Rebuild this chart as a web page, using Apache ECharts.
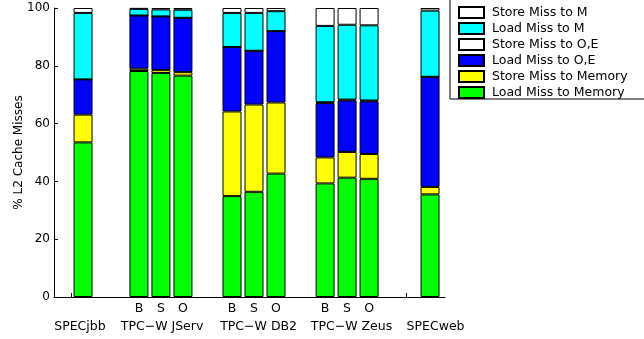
<!DOCTYPE html>
<html>
<head>
<meta charset="utf-8">
<script src="https://cdn.jsdelivr.net/npm/echarts@6/dist/echarts.min.js"></script>
<style>html,body{margin:0;padding:0;background:#fff}#c{width:644px;height:339px}</style>
</head>
<body>
<div id="c"></div>
<script>
// bar positions on the x value axis (one unit = spacing between neighbouring bars)
const barPos = [1.32, 3.86, 4.86, 5.86, 8.09, 9.09, 10.09, 12.32, 13.32, 14.32, 17.09];
const barSubLabels = ['', 'B', 'S', 'O', 'B', 'S', 'O', 'B', 'S', 'O', ''];
const groupPos = [1.18, 4.91, 9.30, 13.52, 17.34];
const groupLabels = ['SPECjbb', 'TPC\u2212W JServ', 'TPC\u2212W DB2', 'TPC\u2212W Zeus', 'SPECweb'];
const minorTickPos = [0.77, 16.0];
const yTicks = [0, 20, 40, 60, 80, 100];

// segment values (% of L2 cache misses), stacked bottom to top
const loadMissMemory  = [53.5, 78.2, 77.5, 76.6, 34.9, 36.4, 42.7, 39.3, 41.3, 40.9, 35.5];
const storeMissMemory = [ 9.6,  0.8,  1.0,  1.2, 29.3, 30.2, 24.6,  9.0,  8.9,  8.6,  2.6];
const loadMissOE      = [12.2, 18.4, 18.6, 18.8, 22.3, 18.6, 24.7, 18.8, 17.8, 18.2, 38.1];
const storeMissOE     = [ 0.0,  0.0,  0.0,  0.0,  0.0,  0.0,  0.0,  0.3,  0.3,  0.3,  0.0];
const loadMissM       = [23.0,  2.3,  2.4,  2.8, 11.8, 13.1,  6.9, 26.4, 25.9, 26.0, 22.9];
const storeMissM      = [ 1.7,  0.3,  0.5,  0.6,  1.7,  1.7,  1.1,  6.2,  5.8,  6.0,  0.9];

const seriesDefs = [
  ['Load Miss to Memory', loadMissMemory, '#00ff00'],
  ['Store Miss to Memory', storeMissMemory, '#ffff00'],
  ['Load Miss to O,E', loadMissOE, '#0000ff'],
  ['Store Miss to O,E', storeMissOE, '#ffffff'],
  ['Load Miss to M', loadMissM, '#00ffff'],
  ['Store Miss to M', storeMissM, '#ffffff']
];

const FONT = 'DejaVu Sans';
const xMin = 0, xMax = 17.77;

function idxOf(arr, v) {
  for (let i = 0; i < arr.length; i++) if (Math.abs(arr[i] - v) < 1e-6) return i;
  return -1;
}

const chart = echarts.init(document.getElementById('c'), null, {renderer: 'canvas'});
chart.setOption({
  animation: false,
  backgroundColor: '#ffffff',
  textStyle: {fontFamily: FONT, color: '#000'},
  grid: {left: 54, right: 199, top: 8, bottom: 42, containLabel: false, outerBoundsMode: 'none'},
  legend: {
    data: seriesDefs.map(d => d[0]).slice().reverse(),
    orient: 'vertical',
    left: 450,
    top: -3,
    padding: [9, 30, 0, 8],
    itemGap: 3,
    itemWidth: 25,
    itemHeight: 11,
    icon: 'rect',
    backgroundColor: '#fff',
    borderColor: '#000',
    borderWidth: 1,
    selectedMode: false,
    textStyle: {fontFamily: FONT, fontSize: 12.5, color: '#000', padding: [0, 0, 0, 3]}
  },
  xAxis: [
    {
      type: 'value', min: xMin, max: xMax,
      axisLine: {show: true, onZero: false, lineStyle: {color: '#000', width: 1}},
      axisTick: {show: true, inside: true, length: 4, customValues: minorTickPos, lineStyle: {color: '#000'}},
      splitLine: {show: false},
      axisLabel: {
        show: true, customValues: barPos, margin: 5,
        fontFamily: FONT, fontSize: 12.5, color: '#000',
        formatter: v => { const i = idxOf(barPos, v); return i >= 0 ? barSubLabels[i] : ''; }
      }
    },
    {
      type: 'value', min: xMin, max: xMax, position: 'bottom',
      axisLine: {show: false}, axisTick: {show: false}, splitLine: {show: false},
      axisLabel: {
        show: true, customValues: groupPos, margin: 23,
        fontFamily: FONT, fontSize: 12.5, color: '#000',
        formatter: v => { const i = idxOf(groupPos, v); return i >= 0 ? groupLabels[i] : ''; }
      }
    }
  ],
  yAxis: {
    type: 'value', min: 0, max: 100, interval: 20,
    name: '% L2 Cache Misses', nameLocation: 'middle', nameGap: 29,
    nameMoveOverlap: false,
    nameTextStyle: {fontFamily: FONT, fontSize: 12, color: '#000'},
    axisLine: {show: true, lineStyle: {color: '#000', width: 1}},
    axisTick: {show: true, inside: true, length: 4, lineStyle: {color: '#000'}},
    splitLine: {show: false},
    axisLabel: {margin: 4, fontFamily: FONT, fontSize: 12, color: '#000',
      formatter: v => (yTicks.indexOf(v) >= 0 ? String(v) : '')}
  },
  series: seriesDefs.map(d => ({
    name: d[0],
    type: 'bar',
    stack: 'total',
    xAxisIndex: 0,
    barWidth: 19,
    // value first so the stack is computed on the y dimension
    data: barPos.map((p, i) => [d[1][i], p]),
    encode: {x: 1, y: 0},
    itemStyle: {color: d[2], borderColor: '#000', borderWidth: 1},
    emphasis: {disabled: true},
    silent: true
  }))
});
</script>
</body>
</html>
